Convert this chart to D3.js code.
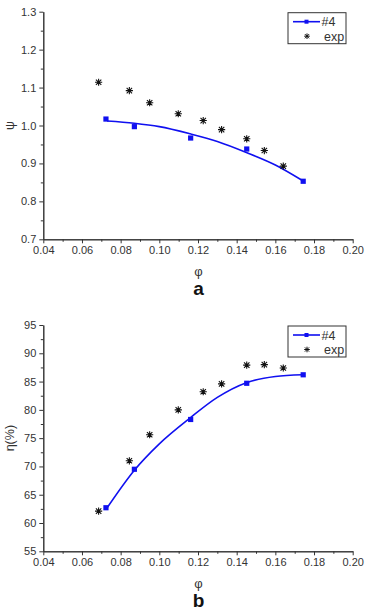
<!DOCTYPE html>
<html>
<head>
<meta charset="utf-8">
<script src="https://cdn.jsdelivr.net/npm/d3@7"></script>
<style>
  body { margin: 0; background: #fff; }
  svg { display: block; font-family: "Liberation Sans", Arial, sans-serif; }
  .axis path, .axis line { stroke: #333; }
  .axis text { fill: #333; font-size: 11px; }
</style>
</head>
<body>
<svg id="chart"></svg>
<script>
// данные
const phiModel = [0.0724, 0.0871, 0.1162, 0.1452, 0.1744];
const psiModel = [1.017, 0.997, 0.967, 0.938, 0.853];
const etaModel = [62.7, 69.5, 78.3, 84.7, 86.2];

const phiExp = [0.0686, 0.0845, 0.0950, 0.1098, 0.1227, 0.1322, 0.1452, 0.1543, 0.1641];
const psiExp = [1.114, 1.092, 1.060, 1.031, 1.013, 0.989, 0.965, 0.934, 0.893];
const etaExp = [62.1, 71.0, 75.6, 80.0, 83.2, 84.6, 87.9, 88.0, 87.4];

// аппроксимирующая кривая (#4)
const phiFit = [0.073, 0.087, 0.100, 0.116, 0.130, 0.145, 0.160, 0.174];
const psiFit = [1.012, 1.006, 0.997, 0.978, 0.958, 0.929, 0.896, 0.855];
const etaFit = [62.7, 69.3, 74.0, 78.6, 82.2, 84.8, 85.9, 86.2];

const xTicks = [0.04, 0.06, 0.08, 0.10, 0.12, 0.14, 0.16, 0.18, 0.20];
const psiTicks = [0.7, 0.8, 0.9, 1.0, 1.1, 1.2, 1.3];
const etaTicks = [55, 60, 65, 70, 75, 80, 85, 90, 95];

const legendNames = ['#4', 'exp'];

const width = 370;
const height = 614;
const svg = d3.select('#chart').attr('width', width).attr('height', height);

const panels = [
    { top: 11.7, bottom: 239.3, yDomain: [0.7, 1.3], yTicks: psiTicks, yFmt: d3.format('.1f'),
      model: psiModel, exp: psiExp, fit: psiFit, yLabel: 'ψ', letter: 'a' },
    { top: 325, bottom: 551.3, yDomain: [55, 95], yTicks: etaTicks, yFmt: d3.format('d'),
      model: etaModel, exp: etaExp, fit: etaFit, yLabel: 'η(%)', letter: 'b' }
];

const scX = d3.scaleLinear().domain([0.04, 0.20]).range([43.3, 352.7]);

function starPath(s) {
    let d = d3.path();
    d.moveTo(-s, 0); d.lineTo(s, 0);
    d.moveTo(0, -s); d.lineTo(0, s);
    let k = s * 0.75;
    d.moveTo(-k, -k); d.lineTo(k, k);
    d.moveTo(-k, k); d.lineTo(k, -k);
    return d.toString();
}

function midpoints(arr) {
    let res = [];
    for (let i = 0; i < arr.length - 1; i++) res.push((arr[i] + arr[i + 1]) / 2);
    return res;
}

panels.forEach(p => {
    let g = svg.append('g');
    let scY = d3.scaleLinear().domain(p.yDomain).range([p.bottom, p.top]);

    // оси
    g.append('g').attr('class', 'axis')
        .attr('transform', `translate(0, ${p.bottom})`)
        .call(d3.axisBottom(scX).tickValues(midpoints(xTicks)).tickSize(2.5).tickFormat('').tickSizeOuter(0));
    g.append('g').attr('class', 'axis')
        .attr('transform', `translate(0, ${p.bottom})`)
        .call(d3.axisBottom(scX).tickValues(xTicks).tickSize(4).tickPadding(3)
            .tickFormat(d3.format('.2f')).tickSizeOuter(0));
    g.append('g').attr('class', 'axis')
        .attr('transform', `translate(${scX.range()[0]}, 0)`)
        .call(d3.axisLeft(scY).tickValues(midpoints(p.yTicks)).tickSize(2.5).tickFormat('').tickSizeOuter(0));
    g.append('g').attr('class', 'axis')
        .attr('transform', `translate(${scX.range()[0]}, 0)`)
        .call(d3.axisLeft(scY).tickValues(p.yTicks).tickSize(4).tickPadding(3)
            .tickFormat(p.yFmt).tickSizeOuter(0));

    // подписи осей
    g.append('text')
        .attr('x', (scX.range()[0] + scX.range()[1]) / 2 + 0.5)
        .attr('y', p.bottom + 37)
        .attr('text-anchor', 'middle')
        .style('font-size', '13px').style('fill', '#333')
        .text('φ');
    g.append('text')
        .attr('transform', `translate(14, ${(p.top + p.bottom) / 2}) rotate(-90)`)
        .attr('text-anchor', 'middle')
        .style('font-size', '12.5px').style('fill', '#333')
        .text(p.yLabel);
    g.append('text')
        .attr('x', 198.5)
        .attr('y', p.bottom + 56)
        .attr('text-anchor', 'middle')
        .style('font-size', '19px').style('font-weight', 'bold').style('fill', '#111')
        .text(p.letter);

    // кривая #4
    let fitData = phiFit.map((x, i) => [x, p.fit[i]]);
    let line = d3.line()
        .x(d => scX(d[0]))
        .y(d => scY(d[1]))
        .curve(d3.curveMonotoneX);
    g.append('path')
        .datum(fitData)
        .attr('d', line)
        .attr('fill', 'none')
        .attr('stroke', '#1010f0')
        .attr('stroke-width', 1.6);

    g.selectAll('.model')
        .data(phiModel.map((x, i) => [x, p.model[i]]))
        .enter()
        .append('rect')
        .attr('class', 'model')
        .attr('x', d => scX(d[0]) - 2.6)
        .attr('y', d => scY(d[1]) - 2.6)
        .attr('width', 5.2)
        .attr('height', 5.2)
        .attr('fill', '#1010f0');

    g.selectAll('.exp')
        .data(phiExp.map((x, i) => [x, p.exp[i]]))
        .enter()
        .append('path')
        .attr('class', 'exp')
        .attr('d', starPath(3.6))
        .attr('transform', d => `translate(${scX(d[0])}, ${scY(d[1])})`)
        .attr('stroke', '#111')
        .attr('stroke-width', 1.1)
        .attr('fill', 'none');

    // легенда
    let lg = g.append('g').attr('transform', `translate(288, ${p.top + 1})`);
    lg.append('rect')
        .attr('x', 0).attr('y', 0)
        .attr('width', 58).attr('height', 31)
        .attr('fill', '#fff')
        .attr('stroke', '#333')
        .attr('stroke-width', 1);
    lg.append('line')
        .attr('x1', 5).attr('x2', 32).attr('y1', 9).attr('y2', 9)
        .attr('stroke', '#1010f0').attr('stroke-width', 1.6);
    lg.append('rect')
        .attr('x', 16.5).attr('y', 7).attr('width', 4).attr('height', 4)
        .attr('fill', '#1010f0');
    lg.append('path')
        .attr('d', starPath(2.8))
        .attr('transform', 'translate(19, 23.5)')
        .attr('stroke', '#111').attr('fill', 'none');
    lg.selectAll('.lgtext')
        .data(legendNames)
        .enter()
        .append('text')
        .attr('class', 'lgtext')
        .attr('x', (d, i) => i == 0 ? 33.5 : 36)
        .attr('y', (d, i) => i == 0 ? 13.5 : 28)
        .style('font-size', '12.5px').style('fill', '#333')
        .text(d => d);
});
</script>
</body>
</html>
